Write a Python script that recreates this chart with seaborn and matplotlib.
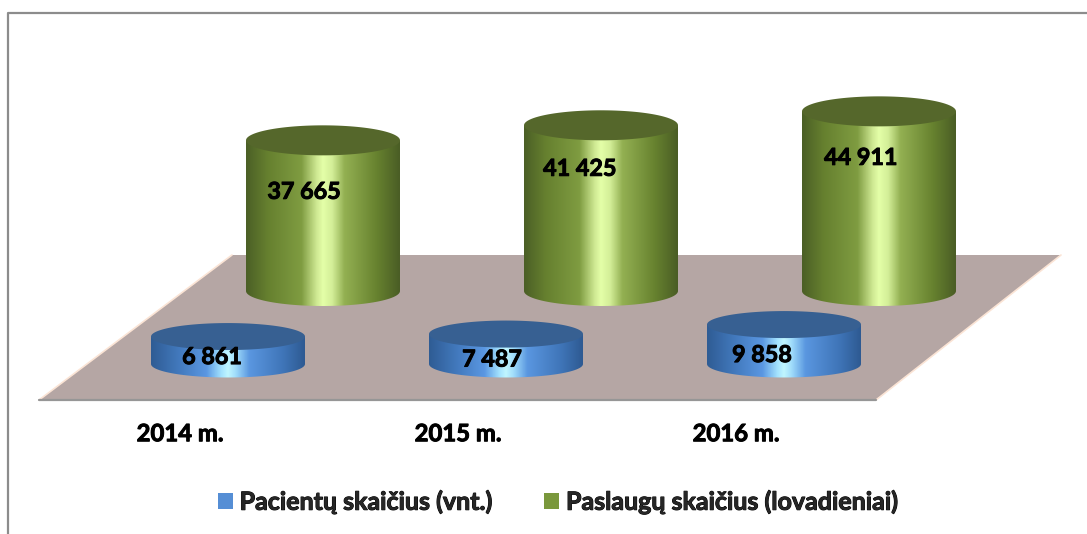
import matplotlib
matplotlib.use("Agg")
import matplotlib.pyplot as plt
from matplotlib.colors import LinearSegmentedColormap
from matplotlib.patches import Patch, PathPatch, Polygon
from matplotlib.path import Path
import matplotlib.patheffects as pe
import numpy as np
import seaborn as sns

years = ["2014 m.", "2015 m.", "2016 m."]
patients = [6861, 7487, 9858]
services = [37665, 41425, 44911]
patients_labels = ["6 861", "7 487", "9 858"]
services_labels = ["37 665", "41 425", "44 911"]
patients_name = "Pacientų skaičius (vnt.)"
services_name = "Paslaugų skaičius (lovadieniai)"

sns.set_theme(style="white")
plt.rcParams["font.family"] = ["Lato", "DejaVu Sans"]

W, H = 1087, 534
AX_BOTTOM = 400       # pixel row of the bottom of the bar axes
PX_PER_UNIT = 0.004   # vertical scale of both rows
PX_PER_CAT = 278
BAR_W = 154
# Lato bold is a bit lighter than the original face, so thicken it
HEAVY = [pe.withStroke(linewidth=0.7, foreground="black")]

green_cmap = LinearSegmentedColormap.from_list("green", [
    (0.0, "#4b5f26"), (0.14, "#66802f"), (0.36, "#7f9c41"), (0.46, "#cfe993"),
    (0.50, "#e4ffa8"), (0.56, "#d3ee98"), (0.64, "#93b052"), (0.85, "#67822f"), (1.0, "#4a5d25")])
blue_cmap = LinearSegmentedColormap.from_list("blue", [
    (0.0, "#2f5c94"), (0.18, "#4279bd"), (0.36, "#5a97e2"), (0.46, "#a5e4ff"),
    (0.50, "#c0f6ff"), (0.55, "#a0dcfb"), (0.64, "#5a97e0"), (0.86, "#3f75b8"), (1.0, "#2e5a92")])


def ellipse_pts(cx, cy, a, b, slope, t):
    # flat disc, sheared a little so the far side tilts up to the right
    x = cx + a * np.cos(t)
    y = cy + b * np.sin(t) + slope * (x - cx)
    return x, y


def cylinders(ax, cats, vals, color, cmap, top_color, top_slope, bot_slope, b_px):
    sns.barplot(x=cats, y=vals, color=color, width=BAR_W / PX_PER_CAT, ax=ax, saturation=1)
    b = b_px / PX_PER_UNIT
    grad = np.linspace(0, 1, 256).reshape(1, -1)
    for bar in list(ax.patches):
        x0, w, h = bar.get_x(), bar.get_width(), bar.get_height()
        cx, a = x0 + w / 2, w / 2
        bar.set_visible(False)
        # body: straight sides and the lower half of the base ellipse
        t = np.linspace(0, -np.pi, 60)
        bx, by = ellipse_pts(cx, 0, a, b, bot_slope, t)
        px = np.r_[x0, x0 + w, bx]
        py = np.r_[h - top_slope * a, h + top_slope * a, by]
        body = PathPatch(Path(np.c_[px, py]), fc="none", ec="none", transform=ax.transData)
        ax.add_patch(body)
        im = ax.imshow(grad, cmap=cmap, extent=[x0, x0 + w, -2 * b, h + 2 * b],
                       aspect="auto", zorder=3, interpolation="bilinear")
        im.set_clip_path(body)
        t = np.linspace(0, 2 * np.pi, 120)
        tx, ty = ellipse_pts(cx, h, a, b, top_slope, t)
        ax.fill(tx, ty, color=top_color, lw=0, zorder=4)


def bar_axes(z):
    ax = fig.add_axes([0, (H - AX_BOTTOM) / H, 1, AX_BOTTOM / H], zorder=z)
    ax.patch.set_visible(False)
    return ax


def set_limits(ax, zero_row, center_px):
    ax.set_ylim((zero_row - AX_BOTTOM) / PX_PER_UNIT, zero_row / PX_PER_UNIT)
    ax.set_xlim(-center_px / PX_PER_CAT, (W - center_px) / PX_PER_CAT)


fig = plt.figure(figsize=(W / 100, H / 100), dpi=100, facecolor="white")

# floor and outer frame, in pixel coordinates
bg = fig.add_axes([0, 0, 1, 1], zorder=0)
bg.set_xlim(0, W)
bg.set_ylim(H, 0)
bg.axis("off")
bg.add_patch(Polygon([(39, 400), (876, 400), (1061, 255), (232, 255)], fc="#b5a6a4", ec="none"))
bg.plot([39, 232], [400, 255], color="#fbe4d5", lw=1.2)
bg.plot([876, 1061], [400, 255], color="#fbe4d5", lw=1.2)
bg.plot([39, 876], [400, 400], color="#969696", lw=1.6)
bg.plot([8, 8, W], [H, 13, 13], color="#8c8c8c", lw=1.6)

# back row
back = bar_axes(1)
cylinders(back, years, services, "#7f9c41", green_cmap, "#55672b", 0.05, 0.035, 15)
set_limits(back, 291, 323)
back.axis("off")

# front row
front = bar_axes(2)
cylinders(front, years, patients, "#4f81bd", blue_cmap, "#376092", 0.07, 0.035, 13.5)
set_limits(front, 364, 228)
sns.despine(ax=front, left=True, bottom=True)
front.set_yticks([])
front.set_xticks(np.arange(3) - 48 / PX_PER_CAT)
front.set_xticklabels(years, fontsize=17.2, fontweight="bold", color="black", path_effects=HEAVY)
front.tick_params(axis="x", length=0, pad=16)
front.grid(False)

# value labels sit left of the bar centre, offsets in pixels
back_off = [(-19, -52), (-21, -44), (-18, -47)]
front_off = [(-16, -21), (-14, -26), (-22, -31)]
for ax, vals, labs, offs in [(back, services, services_labels, back_off),
                             (front, patients, patients_labels, front_off)]:
    for i, (v, lab, off) in enumerate(zip(vals, labs, offs)):
        ax.annotate(lab, xy=(i, v), xytext=(off[0] * 0.72, off[1] * 0.72),
                    textcoords="offset points", ha="center", va="center", fontsize=16.8,
                    fontweight="bold", color="black", zorder=6, path_effects=HEAVY)

handles = [Patch(fc="#558ed5", ec="none", label=patients_name),
           Patch(fc="#7a983c", ec="none", label=services_name)]
leg = fig.legend(handles=handles, loc="center", bbox_to_anchor=(558.5 / W, 1 - 502 / H), ncol=2,
                 frameon=False, prop={"size": 18, "weight": "bold"},
                 handlelength=0.6, handleheight=0.6, handletextpad=0.28, columnspacing=2.04)
for txt in leg.get_texts():
    txt.set_path_effects(HEAVY)

fig.savefig("out.png", dpi=100)
